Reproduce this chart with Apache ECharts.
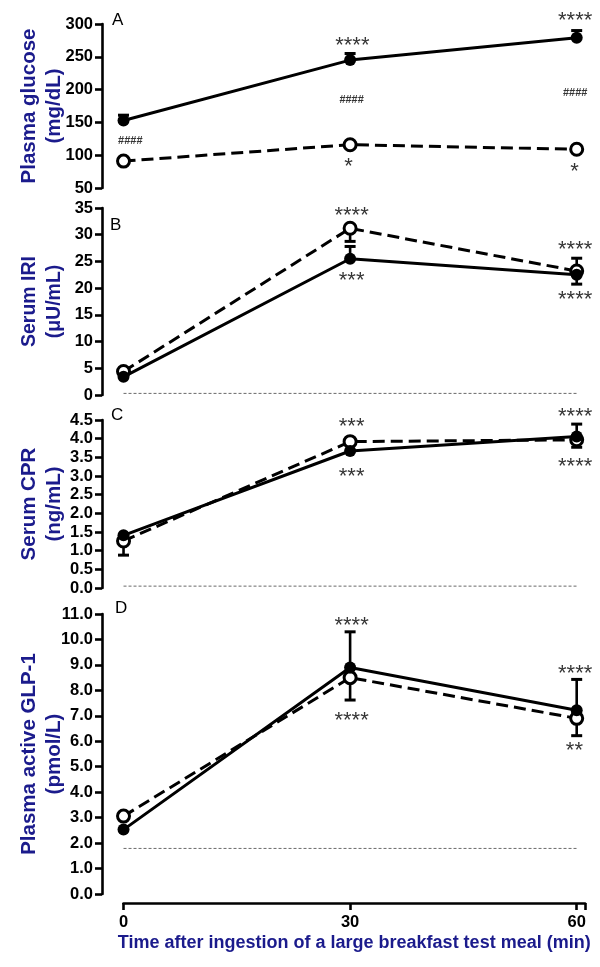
<!DOCTYPE html>
<html>
<head>
<meta charset="utf-8">
<script src="https://cdn.jsdelivr.net/npm/echarts@6/dist/echarts.min.js"></script>
<style>
html,body{margin:0;padding:0;background:#fff;}
#chart{width:600px;height:967px;}
</style>
</head>
<body>
<div id="chart"></div>
<script>
// ---------- data ----------
const timePoints = [0, 30, 60];
const xTickLabels = ['0', '30', '60'];

// Panel A: Plasma glucose (mg/dL)
const glucoseFilled = [153, 245, 279];
const glucoseFilledErr = [161, 255, 290];
const glucoseOpen = [91, 116, 109];
const glucoseOpenErr = [null, null, null];
const glucoseAnnot = [[30.3, 266, '****'], [59.8, 304, '****'], [0.9, 122, '####'], [30.2, 184, '####'], [59.8, 195, '####'], [29.8, 82, '*'], [59.7, 74, '*']];

// Panel B: Serum IRI (uU/mL)
const iriFilled = [3.4, 25.5, 22.5];
const iriFilledErr = [null, 27.8, 25.6];
const iriOpen = [4.4, 31.2, 23.2];
const iriOpenErr = [null, 28.75, 20.75];
const iriRef = 0.3;
const iriAnnot = [[30.2, 33.6, '****'], [30.2, 21.4, '***'], [59.8, 27.1, '****'], [59.8, 17.7, '****']];

// Panel C: Serum CPR (ng/mL)
const cprFilled = [1.41, 3.67, 4.06];
const cprFilledErr = [null, null, 4.39];
const cprOpen = [1.26, 3.92, 3.97];
const cprOpenErr = [0.88, null, 3.77];
const cprRef = 0.05;
const cprAnnot = [[30.2, 4.31, '***'], [30.2, 2.97, '***'], [59.8, 4.58, '****'], [59.8, 3.23, '****']];

// Panel D: Plasma active GLP-1 (pmol/L)
const glpFilled = [2.53, 8.9, 7.22];
const glpFilledErr = [null, 10.3, 8.43];
const glpOpen = [3.06, 8.5, 6.9];
const glpOpenErr = [null, 7.62, 6.22];
const glpRef = 1.79;
const glpAnnot = [[30.2, 10.54, '****'], [30.2, 6.8, '****'], [59.8, 8.64, '****'], [59.7, 5.62, '**']];

// ---------- chart ----------
const NAVY = '#1b1b8c';
const FONT = 'Liberation Sans, Arial, sans-serif';
const chart = echarts.init(document.getElementById('chart'), null, {renderer: 'canvas'});

const panels = [
  {name: 'Plasma glucose\n(mg/dL)', nameSize: 20.5, min: 50, max: 300, interval: 50, dec: 0, top: 24, height: 164,
   filled: glucoseFilled, filledErr: glucoseFilledErr, open: glucoseOpen, openErr: glucoseOpenErr, ref: null, annot: glucoseAnnot},
  {name: 'Serum IRI\n(\u03bcU/mL)', nameSize: 19.5, min: 0, max: 35, interval: 5, dec: 0, top: 208, height: 187,
   filled: iriFilled, filledErr: iriFilledErr, open: iriOpen, openErr: iriOpenErr, ref: iriRef, annot: iriAnnot},
  {name: 'Serum CPR\n(ng/mL)', nameSize: 20.5, min: 0, max: 4.5, interval: 0.5, dec: 1, top: 420, height: 168,
   filled: cprFilled, filledErr: cprFilledErr, open: cprOpen, openErr: cprOpenErr, ref: cprRef, annot: cprAnnot},
  {name: 'Plasma active GLP-1\n(pmol/L)', nameSize: 20.5, min: 0, max: 11, interval: 1, dec: 1, top: 614, height: 280,
   filled: glpFilled, filledErr: glpFilledErr, open: glpOpen, openErr: glpOpenErr, ref: glpRef, annot: glpAnnot}
];

const grids = [], xAxes = [], yAxes = [], series = [];

function errRender(params, api) {
  const x = api.value(0), v = api.value(1), e = api.value(2);
  const p1 = api.coord([x, v]), p2 = api.coord([x, e]);
  const hw = 5.5;
  return {type: 'group', children: [
    {type: 'line', shape: {x1: p1[0], y1: p1[1], x2: p2[0], y2: p2[1]}, style: {stroke: '#000', lineWidth: 2.6}},
    {type: 'line', shape: {x1: p2[0] - hw, y1: p2[1], x2: p2[0] + hw, y2: p2[1]}, style: {stroke: '#000', lineWidth: 3}}
  ]};
}

panels.forEach((p, i) => {
  grids.push({left: 102, right: 15, top: p.top, height: p.height, containLabel: false, outerBoundsMode: 'none'});
  xAxes.push({type: 'value', gridIndex: i, min: -2.85, max: 61.1, show: false});
  yAxes.push({
    type: 'value', gridIndex: i, min: p.min, max: p.max, interval: p.interval,
    name: p.name, nameLocation: 'middle', nameRotate: 90, nameGap: 35, nameMoveOverlap: false,
    nameTextStyle: {color: NAVY, fontWeight: 'bold', fontSize: p.nameSize, lineHeight: 25, fontFamily: FONT, align: 'center'},
    axisLine: {show: true, onZero: false, lineStyle: {color: '#000', width: 2.6}},
    axisTick: {show: true, length: 7, lineStyle: {color: '#000', width: 2.6}},
    axisLabel: {color: '#000', fontWeight: 'bold', fontSize: 16.5, fontFamily: FONT, margin: 9,
      formatter: v => v.toFixed(p.dec)},
    splitLine: {show: false}
  });
  const mkErr = (vals, errs) => timePoints.map((t, k) => errs[k] == null ? null : [t, vals[k], errs[k]]).filter(d => d);
  series.push({type: 'custom', xAxisIndex: i, yAxisIndex: i, renderItem: errRender, silent: true, clip: false,
    data: mkErr(p.filled, p.filledErr), z: 2});
  series.push({type: 'custom', xAxisIndex: i, yAxisIndex: i, renderItem: errRender, silent: true, clip: false,
    data: mkErr(p.open, p.openErr), z: 2});
  if (p.ref != null) {
    series.push({type: 'line', xAxisIndex: i, yAxisIndex: i, silent: true, symbol: 'none',
      data: [[timePoints[0], p.ref], [timePoints[2], p.ref]],
      lineStyle: {color: '#6a6a6a', width: 1, type: [3, 2]}, z: 1});
  }
  series.push({type: 'line', xAxisIndex: i, yAxisIndex: i, silent: true,
    data: timePoints.map((t, k) => [t, p.open[k]]),
    symbol: 'circle', symbolSize: 12, showSymbol: true,
    itemStyle: {color: '#fff', borderColor: '#000', borderWidth: 3},
    lineStyle: {color: '#000', width: 3, type: [12, 6]}, z: 3});
  series.push({type: 'line', xAxisIndex: i, yAxisIndex: i, silent: true,
    data: timePoints.map((t, k) => [t, p.filled[k]]),
    symbol: 'circle', symbolSize: 12, showSymbol: true,
    itemStyle: {color: '#000', borderColor: '#000', borderWidth: 0},
    lineStyle: {color: '#000', width: 3}, z: 4});
  series.push({type: 'scatter', xAxisIndex: i, yAxisIndex: i, silent: true, clip: false,
    symbolSize: 0,
    data: p.annot.map(a => ({value: [a[0], a[1]],
      label: {show: true, position: 'inside', formatter: a[2], color: '#000',
        fontFamily: FONT,
        fontWeight: a[2].indexOf('#') >= 0 ? 'bold' : 'normal',
        fontSize: a[2].indexOf('#') >= 0 ? 11 : 22}})),
    z: 5});
});

// bottom x axis (separate, offset below panel D)
grids.push({left: 123.5, right: 15, top: 902, height: 1, containLabel: false, outerBoundsMode: 'none'});
xAxes.push({
  type: 'value', gridIndex: 4, min: 0, max: 61.1, interval: 30,
  name: 'Time after ingestion of a large breakfast test meal (min)', nameLocation: 'middle', nameGap: 31, nameMoveOverlap: false,
  nameTextStyle: {color: NAVY, fontWeight: 'bold', fontSize: 18, fontFamily: FONT},
  axisLine: {show: true, onZero: false, lineStyle: {color: '#000', width: 2.6}},
  axisTick: {show: true, length: 7, lineStyle: {color: '#000', width: 2.6}},
  axisLabel: {color: '#000', fontWeight: 'bold', fontSize: 16.5, fontFamily: FONT, margin: 11,
    formatter: v => { const k = timePoints.indexOf(v); return k >= 0 ? xTickLabels[k] : ''; }},
  splitLine: {show: false}
});
yAxes.push({type: 'value', gridIndex: 4, show: false, min: 0, max: 1});

const letters = [['A', 112, 12], ['B', 110, 217], ['C', 111, 407], ['D', 115, 600]];

chart.setOption({
  animation: false,
  backgroundColor: '#fff',
  grid: grids,
  xAxis: xAxes,
  yAxis: yAxes,
  series: series,
  graphic: letters.map(l => ({type: 'text', left: l[1], top: l[2],
    style: {text: l[0], fontSize: 17, fontFamily: FONT, fill: '#000'}}))
});
</script>
</body>
</html>
